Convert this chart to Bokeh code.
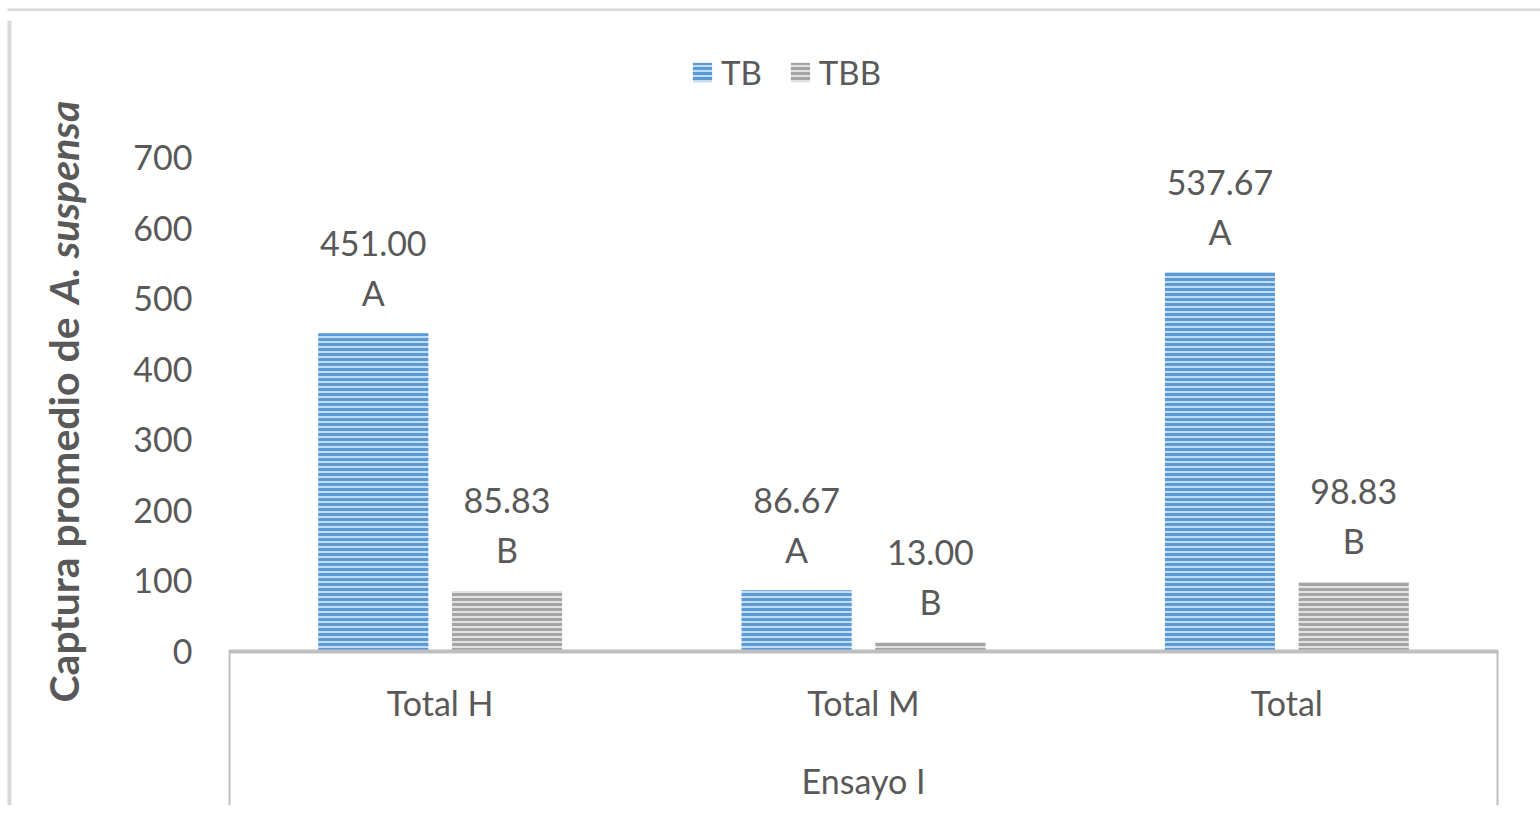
import math
from bokeh.plotting import figure
from bokeh.layouts import row, column
from bokeh.models import (Range1d, FixedTicker, Legend, LegendItem,
                          ColumnDataSource)
from bokeh.core.properties import value
from bokeh.embed import file_html
from bokeh.resources import INLINE

# ---- data ----
categories = ["Total H", "Total M", "Total"]
group_label = "Ensayo I"
tb_values = [451.00, 86.67, 537.67]
tbb_values = [85.83, 13.00, 98.83]
tb_letters = ["A", "A", "A"]
tbb_letters = ["B", "B", "B"]
y_ticks = [0, 100, 200, 300, 400, 500, 600, 700]
series_names = ["TB", "TBB"]
y_title_plain = "Captura promedio de"
y_title_italic = "A. suspensa"

# ---- style ----
FONT = "Lato"
TXT = "#595959"
AXIS_GRAY = "#bfbfbf"
BORDER = "#d9d9d9"
BLUE = "#5b9bd5"
BLUE_LIGHT = "#c5dbf1"
GRAY = "#a5a5a5"
GRAY_LIGHT = "#e2e2e2"
FS = "34px"
TITLE_FS = "41px"

W, H = 1540, 823
TOP_H = 11          # strip holding the chart-area border
LEFT_W = 110        # strip holding the y-axis title
BODY_H = H - TOP_H


def blank(width, height, xr, yr):
    f = figure(width=width, height=height, x_range=xr, y_range=yr,
               output_backend="svg", toolbar_location=None,
               x_axis_location=None, y_axis_location=None,
               min_border=0)
    f.grid.visible = False
    f.outline_line_color = None
    f.background_fill_color = "white"
    f.border_fill_color = "white"
    return f


# ---- top strip: top edge of chart border ----
top = blank(W, TOP_H, Range1d(0, W), Range1d(0, TOP_H))
top.quad(left=[7], right=[W], bottom=[0], top=[4],
         fill_color=BORDER, line_color=None)

# ---- left strip: y title + left edge of border ----
left = blank(LEFT_W, BODY_H, Range1d(0, LEFT_W), Range1d(0, BODY_H))
left.quad(left=[7], right=[11], bottom=[0], top=[BODY_H],
          fill_color=BORDER, line_color=None)
# split point of the title (canvas y ~311 from top)
split = H - 311
left.text(x=[63], y=[split - 7], text=[y_title_plain], angle=math.pi / 2,
          text_align="right", text_baseline="middle",
          text_font=value(FONT), text_font_style="bold",
          text_font_size=TITLE_FS, text_color=TXT)
left.text(x=[63], y=[split + 7], text=[y_title_italic], angle=math.pi / 2,
          text_align="left", text_baseline="middle",
          text_font=value(FONT), text_font_style="bold italic",
          text_font_size=TITLE_FS, text_color=TXT)

# ---- main chart ----
frame_w, frame_h = 1270, 785
px_per_unit = 494 / 700.0
below = 154 / px_per_unit
above = (frame_h - 154) / px_per_unit
n = len(categories)

p = figure(frame_width=frame_w, frame_height=frame_h,
           min_border_left=228 - LEFT_W, min_border_right=42,
           min_border_top=20 - TOP_H, min_border_bottom=18,
           x_range=Range1d(0, n), y_range=Range1d(-below, above),
           output_backend="svg", toolbar_location=None,
           x_axis_location=None)
p.grid.visible = False
p.outline_line_color = None
p.background_fill_color = "white"
p.border_fill_color = "white"

centers = [i + 0.5 for i in range(n)]
off = 0.158
bw = 0.26
src_tb = ColumnDataSource(dict(
    x=[c - off for c in centers], top=tb_values,
    val=["{:.2f}".format(v) for v in tb_values], let=tb_letters))
src_tbb = ColumnDataSource(dict(
    x=[c + off for c in centers], top=tbb_values,
    val=["{:.2f}".format(v) for v in tbb_values], let=tbb_letters))

r_tb = p.vbar(x="x", top="top", bottom=0, width=bw, source=src_tb,
              fill_color=BLUE_LIGHT, line_color=None,
              hatch_pattern="horizontal_line", hatch_color=BLUE,
              hatch_scale=5, hatch_weight=3)
r_tbb = p.vbar(x="x", top="top", bottom=0, width=bw, source=src_tbb,
               fill_color=GRAY_LIGHT, line_color=None,
               hatch_pattern="horizontal_line", hatch_color=GRAY,
               hatch_scale=5, hatch_weight=3)

for src in (src_tb, src_tbb):
    p.text(x="x", y="top", text="val", source=src, y_offset=-90,
           text_align="center", text_baseline="middle",
           text_font=value(FONT), text_font_size=FS, text_color=TXT)
    p.text(x="x", y="top", text="let", source=src, y_offset=-41,
           text_align="center", text_baseline="middle",
           text_font=value(FONT), text_font_size=FS, text_color=TXT)

# category axis (Excel-style multi-level box)
p.segment(x0=[0], y0=[0], x1=[n], y1=[0], line_color=AXIS_GRAY, line_width=4)
p.segment(x0=[0, n], y0=[0, 0], x1=[0, n], y1=[-below, -below],
          line_color=AXIS_GRAY, line_width=4)
p.text(x=centers, y=[0] * n, text=categories, y_offset=51,
       text_align="center", text_baseline="middle",
       text_font=value(FONT), text_font_size=FS, text_color=TXT)
p.text(x=[n / 2.0], y=[0], text=[group_label], y_offset=129,
       text_align="center", text_baseline="middle",
       text_font=value(FONT), text_font_size=FS, text_color=TXT)

# y axis
ya = p.yaxis[0]
ya.ticker = FixedTicker(ticks=y_ticks)
ya.axis_line_color = None
ya.major_tick_line_color = None
ya.minor_tick_line_color = None
ya.major_tick_out = 0
ya.major_tick_in = 0
ya.major_label_standoff = 36
ya.major_label_text_font = FONT
ya.major_label_text_font_size = FS
ya.major_label_text_color = TXT

# legend
legend = Legend(items=[LegendItem(label=series_names[0], renderers=[r_tb]),
                       LegendItem(label=series_names[1], renderers=[r_tbb])],
                orientation="horizontal", location=(462, 713),
                glyph_width=24, glyph_height=24, label_standoff=7,
                spacing=26, padding=0, margin=0,
                border_line_color=None, background_fill_alpha=0,
                label_text_font=FONT, label_text_font_size="33px",
                label_text_color=TXT)
p.add_layout(legend, "center")

layout = column(top, row(left, p, spacing=0), spacing=0)
open("out.html", "w").write(file_html(layout, INLINE))
